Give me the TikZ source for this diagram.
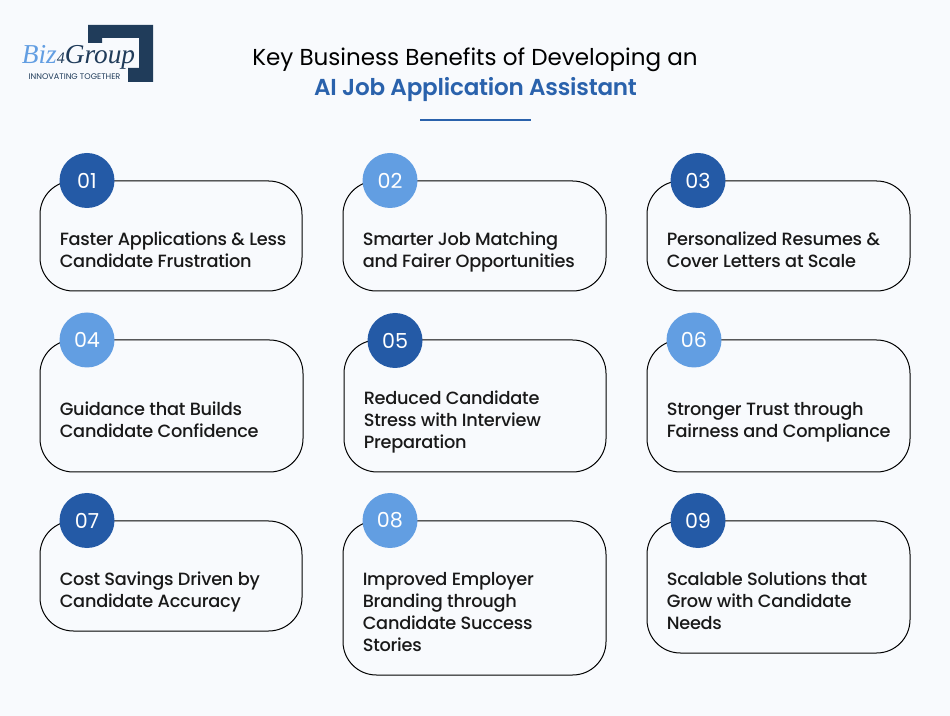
\documentclass[tikz,border=0pt]{standalone}
\usepackage{fontspec}
\setmainfont{Poppins Medium}[LetterSpace=-1.4, BoldFont={Poppins Bold}]
\newfontfamily\titlefont{Poppins}
\newfontfamily\titlebold{Poppins SemiBold}[LetterSpace=-0.9]
\newfontfamily\numfont{Poppins}
\newfontfamily\logofont{Liberation Serif}
\usepackage{tikz}
\usetikzlibrary{positioning}
\definecolor{pagebg}{HTML}{F8FAFD}
\definecolor{darkblue}{HTML}{245AA6}
\definecolor{lightblue}{HTML}{629EE2}
\definecolor{navy}{HTML}{203C5A}
\definecolor{titleblue}{HTML}{2A62AC}
\begin{document}
\begin{tikzpicture}[
		x=0.75pt, y=-0.75pt,
		card/.style={draw=black, line width=0.75pt, fill=pagebg, rounded corners=25pt, inner sep=0pt},
		badge/.style={circle, draw=none, text=white, minimum size=41.25pt, inner sep=0pt, font=\numfont\fontsize{15.5}{15.5}\selectfont},
		dark/.style={badge, fill=darkblue},
		light/.style={badge, fill=lightblue},
		benefit/.style={anchor=west, align=left, inner sep=0pt, text=black!90, font=\fontsize{13.3}{16.5}\selectfont},
		title/.style={inner sep=0pt, font=\titlefont\fontsize{17.3}{20}\selectfont}
		]
		
		% La page
		\fill[pagebg] (0,0) rectangle (950,716);
		\useasboundingbox (0,0) rectangle (950,716);
		
		% Le logo
		\fill[navy] (88,25) -- (153,25) -- (153,82) -- (128,82) -- (128,68) -- (139,68) -- (139,38) -- (102,38) -- (102,43) -- (88,43) -- cycle;
		\node[inner sep=0pt, font=\logofont\itshape\fontsize{20.5}{22}\selectfont] (logoname) at (78.5,57) {\textcolor{lightblue}{Biz}\textcolor{navy}{\fontsize{12}{13}\selectfont 4}\textcolor{navy}{Group}};
		\node[inner sep=0pt, text=navy, font=\titlefont\fontsize{6.1}{7}\selectfont] (logotag) at (74.5,76.5) {INNOVATING TOGETHER};
		
		% Le titre
		\node[title] (title1) at (475,60) {Key Business Benefits of Developing an};
		\node[title, text=titleblue, font=\titlebold\fontsize{17.3}{20}\selectfont] (title2) at (475.5,90) {AI Job Application Assistant};
		\coordinate (ruleA) at (420,120);
		\coordinate (ruleB) at (531,120);
		\draw[titleblue, line width=1.1pt] (ruleA) -- (ruleB);
		
		% Les cartes
		\node[card, minimum width=196.5pt, minimum height=82.5pt] (card1) at (171,236) {};
		\node[card, minimum width=197.25pt, minimum height=82.5pt] (card2) at (474.5,236) {};
		\node[card, minimum width=197.25pt, minimum height=82.5pt] (card3) at (778.5,236) {};
		\node[card, minimum width=197.25pt, minimum height=99pt] (card4) at (171.5,406) {};
		\node[card, minimum width=196.5pt, minimum height=99pt] (card5) at (475,406) {};
		\node[card, minimum width=197.25pt, minimum height=99pt] (card6) at (778.5,406) {};
		\node[card, minimum width=196.5pt, minimum height=82.5pt] (card7) at (171,576) {};
		\node[card, minimum width=197.25pt, minimum height=115.5pt] (card8) at (474.5,598) {};
		\node[card, minimum width=197.25pt, minimum height=99pt] (card9) at (778.5,587) {};
		
		% Les pastilles
		\node[dark] (num1) at (87,180.5) {01};
		\node[light] (num2) at (390,180.5) {02};
		\node[dark] (num3) at (698,180.5) {03};
		\node[light] (num4) at (87,340) {04};
		\node[dark] (num5) at (395,340.5) {05};
		\node[light] (num6) at (694,340) {06};
		\node[dark] (num7) at (87,520.5) {07};
		\node[light] (num8) at (390,520.5) {08};
		\node[dark] (num9) at (698,520.5) {09};
		
		% Les textes
		\node[benefit] (text1) at (59.5,250) {Faster Applications \& Less\\Candidate Frustration};
		\node[benefit] (text2) at (362.5,252) {Smarter Job Matching\\and Fairer Opportunities};
		\node[benefit] (text3) at (666.5,250) {Personalized Resumes \&\\Cover Letters at Scale};
		\node[benefit] (text4) at (59.5,420) {Guidance that Builds\\Candidate Confidence};
		\node[benefit] (text5) at (363.5,422) {Reduced Candidate\\Stress with Interview\\Preparation};
		\node[benefit] (text6) at (666.5,422) {Stronger Trust through\\Fairness and Compliance};
		\node[benefit] (text7) at (59.5,592) {Cost Savings Driven by\\Candidate Accuracy};
		\node[benefit] (text8) at (362.5,612) {Improved Employer\\Branding through\\Candidate Success\\Stories};
		\node[benefit] (text9) at (666.5,601) {Scalable Solutions that\\Grow with Candidate\\Needs};
	\end{tikzpicture}
\end{document}
